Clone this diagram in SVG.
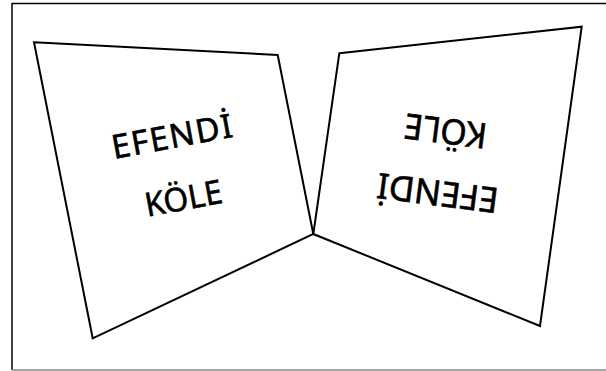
<svg xmlns="http://www.w3.org/2000/svg" width="606" height="371" viewBox="0 0 606 371">
<style>
.card{fill:#fff;stroke:#000;stroke-width:2;stroke-linejoin:miter}
.lbl{font-family:"Noto Sans","Open Sans","DejaVu Sans",sans-serif;fill:#000;stroke:#000;stroke-width:0.6;text-anchor:middle}
</style>
<rect x="0" y="0" width="606" height="371" fill="#fff"/>
<g id="frame">
<line x1="12" y1="3.5" x2="606" y2="3.5" stroke="#000" stroke-width="1.5"/>
<line x1="12" y1="3" x2="12" y2="370" stroke="#000" stroke-width="1.5"/>
<line x1="12" y1="370" x2="606" y2="370" stroke="#888" stroke-width="1.5"/>
</g>
<g id="left-card">
<polygon class="card" points="34,42.3 277.7,55 313.3,234 92.7,338.3"/>
<g transform="translate(174,147.8) rotate(-10.5)">
<text class="lbl" x="0" y="0" font-size="33" textLength="122" lengthAdjust="spacing">EFENDİ</text>
<text class="lbl" x="0" y="63" font-size="33" textLength="78" lengthAdjust="spacingAndGlyphs">KÖLE</text>
</g>
</g>
<g id="right-card">
<polygon class="card" points="339.3,53.3 581.7,26.7 540,326 313.3,234"/>
<g transform="translate(439.2,180.8) rotate(187.3)">
<text class="lbl" x="0" y="0" font-size="35" textLength="122" lengthAdjust="spacing">EFENDİ</text>
<text class="lbl" x="0" y="62.7" font-size="35" textLength="83" lengthAdjust="spacingAndGlyphs">KÖLE</text>
</g>
</g>
</svg>
